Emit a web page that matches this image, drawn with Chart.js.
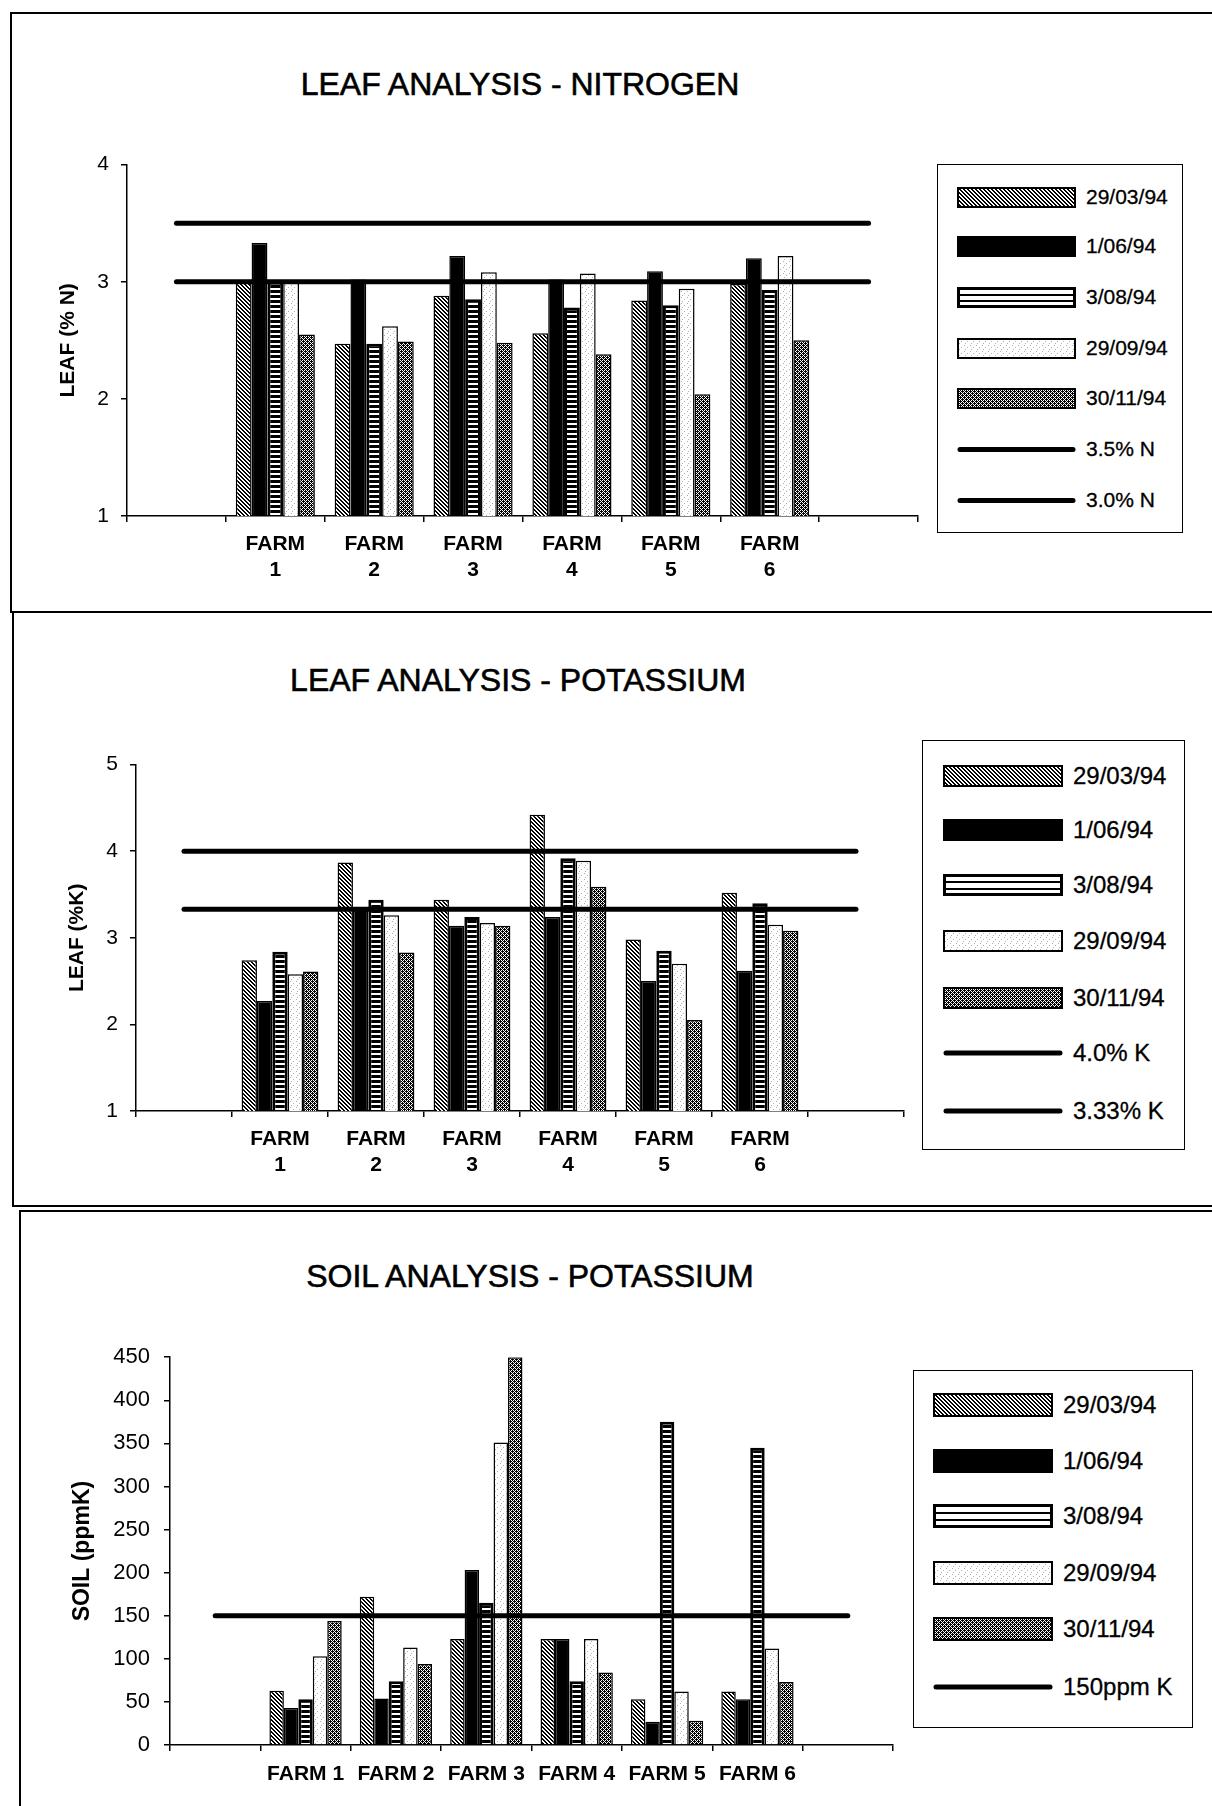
<!DOCTYPE html>
<html>
<head>
<meta charset="utf-8">
<script src="https://cdn.jsdelivr.net/npm/chart.js@4.4.1/dist/chart.umd.min.js"></script>
<style>
  html, body { margin: 0; padding: 0; background: #fff; }
  body { width: 1212px; height: 1806px; position: relative; overflow: hidden;
         font-family: 'Liberation Sans', Arial, Helvetica, sans-serif; color: #000; }
  .panel { position: absolute; border: 2px solid #000; box-sizing: border-box; }
  .title { position: absolute; font-size: 32px; white-space: nowrap; transform: translate(-50%, -50%);
           -webkit-text-stroke: 0.6px #000; }
  .chart { position: absolute; }
  .legend { position: absolute; border: 1.5px solid #000; box-sizing: border-box; background: #fff; }
  .lab { position: absolute; white-space: nowrap; transform: translateY(-50%); -webkit-text-stroke: 0.3px #000; }
  .sw { position: absolute; }
</style>
</head>
<body>
  <div class="panel" style="left:10px;top:12px;width:1300px;height:601px"></div>
  <div class="panel" style="left:12px;top:611px;width:1300px;height:596px"></div>
  <div class="panel" style="left:19px;top:1210px;width:1300px;height:700px"></div>

  <div class="title" style="left:520px;top:84px">LEAF ANALYSIS - NITROGEN</div>
  <div class="title" style="left:518px;top:680px">LEAF ANALYSIS - POTASSIUM</div>
  <div class="title" style="left:530px;top:1276px">SOIL ANALYSIS - POTASSIUM</div>

  <canvas id="c1" class="chart" width="910" height="450" style="left:20px;top:140px"></canvas>
  <canvas id="c2" class="chart" width="900" height="440" style="left:25px;top:740px"></canvas>
  <canvas id="c3" class="chart" width="890" height="476" style="left:25px;top:1330px"></canvas>

  <div id="lg1" class="legend"></div>
  <div id="lg2" class="legend"></div>
  <div id="lg3" class="legend"></div>

<script>
// sampling dates (one bar per date in every farm group)
const DATES = ['29/03/94', '1/06/94', '3/08/94', '29/09/94', '30/11/94'];
const FARMS_2LINE = ['', ['FARM', '1'], ['FARM', '2'], ['FARM', '3'], ['FARM', '4'], ['FARM', '5'], ['FARM', '6'], ''];
const FARMS_1LINE = ['', 'FARM 1', 'FARM 2', 'FARM 3', 'FARM 4', 'FARM 5', 'FARM 6', ''];

// leaf nitrogen (% N), farms 1..6
const leafN_2903 = [3.0, 2.47, 2.88, 2.56, 2.84, 2.98];
const leafN_0106 = [3.33, 3.02, 3.22, 3.02, 3.09, 3.2];
const leafN_0308 = [3.0, 2.47, 2.85, 2.78, 2.8, 2.93];
const leafN_2909 = [3.0, 2.62, 3.08, 3.07, 2.94, 3.22];
const leafN_3011 = [2.55, 2.49, 2.48, 2.38, 2.04, 2.5];
const leafN_high = [3.5, 3.5, 3.5, 3.5, 3.5, 3.5, 3.5, 3.5];
const leafN_low = [3.0, 3.0, 3.0, 3.0, 3.0, 3.0, 3.0, 3.0];

// leaf potassium (% K)
const leafK_2903 = [2.74, 3.87, 3.44, 4.42, 2.98, 3.52];
const leafK_0106 = [2.27, 3.35, 3.14, 3.24, 2.5, 2.62];
const leafK_0308 = [2.84, 3.44, 3.24, 3.92, 2.85, 3.4];
const leafK_2909 = [2.58, 3.26, 3.17, 3.89, 2.7, 3.15];
const leafK_3011 = [2.61, 2.83, 3.14, 3.59, 2.05, 3.08];
const leafK_high = [4.0, 4.0, 4.0, 4.0, 4.0, 4.0, 4.0, 4.0];
const leafK_low = [3.33, 3.33, 3.33, 3.33, 3.33, 3.33, 3.33, 3.33];

// soil potassium (ppm K)
const soilK_2903 = [63, 172, 123, 123, 53, 62];
const soilK_0106 = [43, 54, 203, 123, 27, 53];
const soilK_0308 = [53, 74, 165, 74, 375, 345];
const soilK_2909 = [103, 113, 351, 123, 62, 112];
const soilK_3011 = [144, 94, 450, 84, 28, 73];
const soilK_ref = [150, 150, 150, 150, 150, 150, 150, 150];

// --- fill patterns, approximating the printed hatching ---
function tile(w, h, draw) {
  const c = document.createElement('canvas');
  c.width = w; c.height = h;
  const x = c.getContext('2d');
  x.fillStyle = '#fff'; x.fillRect(0, 0, w, h);
  x.fillStyle = '#000';
  draw(x);
  return c;
}
const TILES = [
  // diagonal "\\" hatching
  tile(4, 4, x => { for (let i = 0; i < 4; i++) { x.fillRect(i, i, 1, 1); x.fillRect((i + 1) % 4, i, 1, 1); } }),
  null,
  // horizontal rules
  tile(1, 5, x => { x.fillRect(0, 0, 1, 3); }),
  // faint stipple
  tile(6, 6, x => { x.fillStyle = '#b0b0b0'; x.fillRect(1, 1, 1, 1); x.fillRect(4, 3, 1, 1); x.fillRect(2, 5, 1, 1); }),
  // dense cross-hatch
  tile(4, 4, x => { x.fillRect(0, 0, 4, 4); x.fillStyle = '#fff';
    [[0, 0], [2, 0], [1, 1], [0, 2], [2, 2], [3, 3]].forEach(([a, b]) => x.fillRect(a, b, 1, 1)); }),
];
const patCtx = document.createElement('canvas').getContext('2d');
const FILLS = TILES.map(t => t ? patCtx.createPattern(t, 'repeat') : '#000');

function makeChart(id, o) {
  const bars = o.series.map((vals, i) => ({
    type: 'bar',
    label: DATES[i],
    data: [null, ...vals, null],
    backgroundColor: FILLS[i],
    borderColor: '#000',
    borderWidth: i === 2 ? 3 : 1.5,
    barPercentage: 1,
    categoryPercentage: 0.8,
  }));
  const lines = o.lines.map(l => ({
    type: 'line',
    label: l.label,
    data: l.data,
    borderColor: '#000',
    borderWidth: 5,
    borderCapStyle: 'round',
    pointRadius: 0,
    order: -1,
  }));
  return new Chart(document.getElementById(id), {
    data: { labels: o.labels, datasets: [...bars, ...lines] },
    options: {
      responsive: false,
      animation: false,
      layout: { padding: { top: o.padTop, right: o.padRight, left: 0, bottom: 0 } },
      plugins: { legend: { display: false }, tooltip: { enabled: false } },
      scales: {
        x: {
          offset: true,
          grid: { drawOnChartArea: false, drawTicks: true, tickLength: 6, color: '#000', lineWidth: 1.5, offset: true },
          border: { color: '#000', width: 1.5 },
          ticks: { color: '#000', autoSkip: false, maxRotation: 0, padding: o.xPad,
                   font: { family: "'Liberation Sans', Arial, sans-serif", size: 21, weight: 'bold', lineHeight: 1.2 } },
          afterFit: s => { s.height = o.xH; },
        },
        y: {
          min: o.min, max: o.max,
          ticks: { stepSize: o.step, color: '#000', padding: o.yPad,
                   font: { family: "'Liberation Sans', Arial, sans-serif", size: o.tickSize } },
          grid: { drawOnChartArea: false, tickLength: 6, color: '#000', lineWidth: 1.5 },
          border: { color: '#000', width: 1.5 },
          title: { display: true, text: o.yTitle, color: '#000', padding: { top: o.titlePad, bottom: 0 },
                   font: { family: "'Liberation Sans', Arial, sans-serif", size: o.titleSize, weight: 'bold' } },
          afterFit: s => { s.width = o.yW; },
        },
      },
    },
  });
}

makeChart('c1', {
  labels: FARMS_2LINE,
  series: [leafN_2903, leafN_0106, leafN_0308, leafN_2909, leafN_3011],
  lines: [{ label: '3.5% N', data: leafN_high }, { label: '3.0% N', data: leafN_low }],
  min: 1, max: 4, step: 1, yTitle: 'LEAF (% N)',
  yW: 107, xH: 74, padTop: 18, padRight: 12, xPad: 10, yPad: 12, tickSize: 21, titleSize: 21, titlePad: 36,
});
makeChart('c2', {
  labels: FARMS_2LINE,
  series: [leafK_2903, leafK_0106, leafK_0308, leafK_2909, leafK_3011],
  lines: [{ label: '4.0% K', data: leafK_high }, { label: '3.33% K', data: leafK_low }],
  min: 1, max: 5, step: 1, yTitle: 'LEAF (%K)',
  yW: 111, xH: 69, padTop: 17, padRight: 21, xPad: 10, yPad: 12, tickSize: 21, titleSize: 21, titlePad: 40,
});
makeChart('c3', {
  labels: FARMS_1LINE,
  series: [soilK_2903, soilK_0106, soilK_0308, soilK_2909, soilK_3011],
  lines: [{ label: '150ppm K', data: soilK_ref }],
  min: 0, max: 450, step: 50, yTitle: 'SOIL (ppmK)',
  yW: 145, xH: 61, padTop: 25, padRight: 22, xPad: 11, yPad: 14, tickSize: 22, titleSize: 23, titlePad: 44,
});

// --- legends (HTML, swatches painted with the same fills) ---
function swatch(w, h, kind) {
  const c = document.createElement('canvas');
  c.width = w; c.height = h;
  const x = c.getContext('2d');
  if (kind === 'line') {
    x.strokeStyle = '#000';
    x.beginPath(); x.lineCap = 'round'; x.lineWidth = 5;
    x.moveTo(3, h / 2); x.lineTo(w - 3, h / 2); x.stroke();
    return c;
  }
  x.fillStyle = kind === 1 ? '#000' : FILLS[kind];
  x.fillRect(0, 0, w, h);
  if (kind === 2) {
    x.fillStyle = '#fff'; x.fillRect(0, 0, w, h);
    x.fillStyle = '#000';
    x.fillRect(0, Math.round(h / 3), w, 2);
    x.fillRect(0, Math.round(2 * h / 3) - 1, w, 2);
  }
  x.strokeStyle = '#000';
  x.lineWidth = kind === 2 ? 3 : 2;
  x.strokeRect(x.lineWidth / 2, x.lineWidth / 2, w - x.lineWidth, h - x.lineWidth);
  return c;
}

function buildLegend(id, L) {
  const box = document.getElementById(id);
  Object.assign(box.style, { left: L.left + 'px', top: L.top + 'px', width: L.w + 'px', height: L.h + 'px' });
  const items = [...DATES.map((d, i) => ({ text: d, kind: i })), ...L.lines.map(t => ({ text: t, kind: 'line' }))];
  items.forEach((it, i) => {
    const cy = L.rows[i] - L.top;
    const c = swatch(L.swW, L.swH, it.kind);
    c.className = 'sw';
    c.style.left = (L.swX - L.left) + 'px';
    c.style.top = (cy - L.swH / 2) + 'px';
    box.appendChild(c);
    const t = document.createElement('div');
    t.className = 'lab';
    t.textContent = it.text;
    t.style.left = (L.textX - L.left) + 'px';
    t.style.top = cy + 'px';
    t.style.fontSize = L.font + 'px';
    box.appendChild(t);
  });
}

buildLegend('lg1', { left: 937, top: 164, w: 246, h: 369, rows: [196, 245, 296, 347, 397, 448, 499],
  swX: 956, swW: 119, swH: 21, textX: 1085, font: 21, lines: ['3.5% N', '3.0% N'] });
buildLegend('lg2', { left: 922, top: 740, w: 263, h: 410, rows: [775, 829, 884, 940, 997, 1052, 1110],
  swX: 942, swW: 120, swH: 22, textX: 1072, font: 24, lines: ['4.0% K', '3.33% K'] });
buildLegend('lg3', { left: 913, top: 1370, w: 280, h: 358, rows: [1404, 1460, 1515, 1572, 1628, 1686],
  swX: 932, swW: 120, swH: 24, textX: 1062, font: 24, lines: ['150ppm K'] });
</script>
</body>
</html>
